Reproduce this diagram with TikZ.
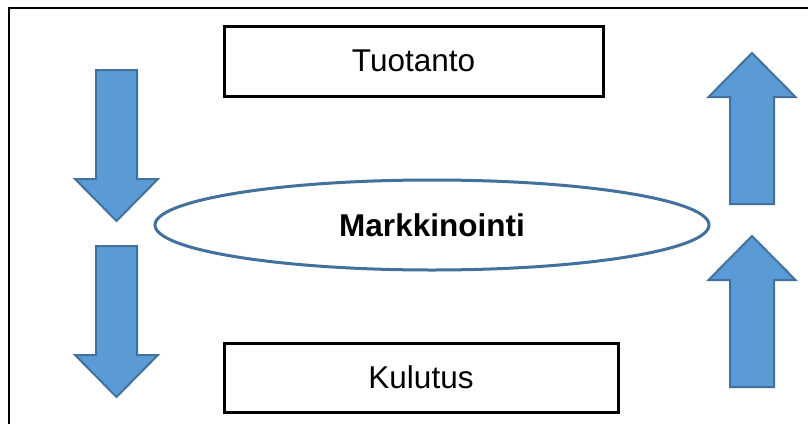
\documentclass[tikz,border=0pt]{standalone}
\usepackage{fontspec}
\setmainfont{Liberation Sans}
\usetikzlibrary{shapes.geometric}
\definecolor{arrowfill}{HTML}{5B9BD5}
\definecolor{arrowedge}{HTML}{41719C}
\tikzset{
  x=1pt, y=-1pt,
  textbox/.style={draw=black, line width=3pt, fill=white, inner sep=0pt,
    font=\fontsize{31.5}{36}\selectfont},
  oval/.style={ellipse, draw=arrowedge, line width=3pt, inner sep=0pt,
    font=\fontsize{31.5}{36}\selectfont\bfseries},
  blockarrow/.style={fill=arrowfill, draw=arrowedge, line width=2pt, line join=miter},
  frameline/.style={draw=black, line width=2pt}
}
% block arrow pointing down; origin at the middle of the shaft's top end
\tikzset{downarrow/.pic={
  \path[blockarrow] (-20.5,0) -- (20.5,0) -- (20.5,109) -- (41.5,109)
    -- (0,151) -- (-41.5,109) -- (-20.5,109) -- cycle;
}}
% block arrow pointing up; origin at the tip
\tikzset{uparrow/.pic={
  \path[blockarrow] (0,0) -- (43.5,44) -- (22,44) -- (22,151) -- (-22,151)
    -- (-22,44) -- (-43.5,44) -- cycle;
}}
\begin{document}
\begin{tikzpicture}
  \useasboundingbox (0,0) rectangle (808,423);
  \fill[white] (0,0) rectangle (808,423);

  % outer frame, only its top and left sides are in view
  \path[frameline] (9,425) -- (9,8) -- (810,8);

  % boxes and the central ellipse
  \node[textbox, minimum width=379pt, minimum height=70pt] (tuotanto) at (413.5,61) {Tuotanto};
  \node[textbox, minimum width=394pt, minimum height=69pt] (kulutus) at (421,377.5) {Kulutus};
  \node[oval, minimum width=554pt, minimum height=90pt] (markkinointi) at (432,225) {Markkinointi};

  % downward arrows on the left
  \pic at (116.5,70) {downarrow};
  \pic at (116.5,246) {downarrow};

  % upward arrows on the right
  \pic at (752,53) {uparrow};
  \pic at (752,236) {uparrow};
\end{tikzpicture}
\end{document}
